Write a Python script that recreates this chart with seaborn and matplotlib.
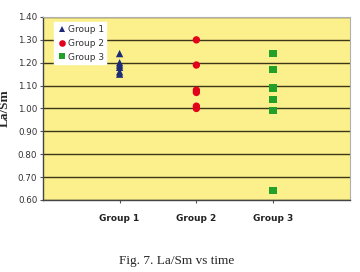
import matplotlib
matplotlib.use("Agg")
import matplotlib.pyplot as plt
import seaborn as sns
import pandas as pd

groups = ["Group 1", "Group 2", "Group 3"]
g1 = [1.24, 1.20, 1.19, 1.18, 1.16, 1.15]
g2 = [1.30, 1.19, 1.08, 1.07, 1.01, 1.00]
g3 = [1.24, 1.17, 1.09, 1.04, 0.99, 0.64]
yticks = [0.60, 0.70, 0.80, 0.90, 1.00, 1.10, 1.20, 1.30, 1.40]

rows = []
for i, (name, vals) in enumerate(zip(groups, [g1, g2, g3])):
    for v in vals:
        rows.append({"group": name, "x": i + 1, "y": v})
df = pd.DataFrame(rows)

sns.set_style("white")
fig = plt.figure(figsize=(3.6, 2.72), dpi=100)
ax = fig.add_axes([0.119, 0.265, 0.853, 0.6725])
ax.set_facecolor("#FBF08C")

palette = {"Group 1": "#1C2A78", "Group 2": "#E3001A", "Group 3": "#22A02A"}
markers = {"Group 1": "^", "Group 2": "o", "Group 3": "s"}
sns.scatterplot(data=df, x="x", y="y", hue="group", style="group",
                palette=palette, markers=markers, s=28, linewidth=0,
                ax=ax, zorder=3)

ax.set_xlim(0, 4)
ax.set_ylim(0.60, 1.40)
ax.set_yticks(yticks)
ax.set_yticklabels([f"{t:.2f}" for t in yticks], fontsize=6.3, color="#333333")
ax.set_xticks([1, 2, 3])
ax.set_xticklabels(groups, fontsize=6.5, fontweight="bold", color="#222222")
ax.tick_params(axis="x", length=2, pad=8, color="#555555")
ax.tick_params(axis="y", length=2, pad=2, color="#555555", left=True)
ax.tick_params(axis="x", bottom=True)
ax.grid(axis="y", color="#3d3618", linewidth=1.0, zorder=1)
ax.set_axisbelow(True)
for s in ["top", "right"]:
    ax.spines[s].set_color("#b0b0b0")
    ax.spines[s].set_linewidth(0.8)
for s in ["left", "bottom"]:
    ax.spines[s].set_color("#444444")
    ax.spines[s].set_linewidth(1.0)

ax.set_xlabel("")
ax.set_ylabel("La/Sm", fontsize=9.5, fontweight="bold", family="Liberation Serif", labelpad=5)

leg = ax.legend(loc="upper left", bbox_to_anchor=(0.03, 0.98), fontsize=6.5,
                frameon=True, fancybox=False, edgecolor="white", facecolor="white",
                framealpha=1, handletextpad=0.1, borderpad=0.25, labelspacing=0.55,
                markerscale=0.9, borderaxespad=0.2, handlelength=1.2)
for t in leg.get_texts():
    t.set_color("#333333")

fig.text(0.49, 0.02, "Fig. 7. La/Sm vs time", ha="center", va="bottom",
         fontsize=9.5, family="Liberation Serif")

fig.savefig("out.png", dpi=100)
